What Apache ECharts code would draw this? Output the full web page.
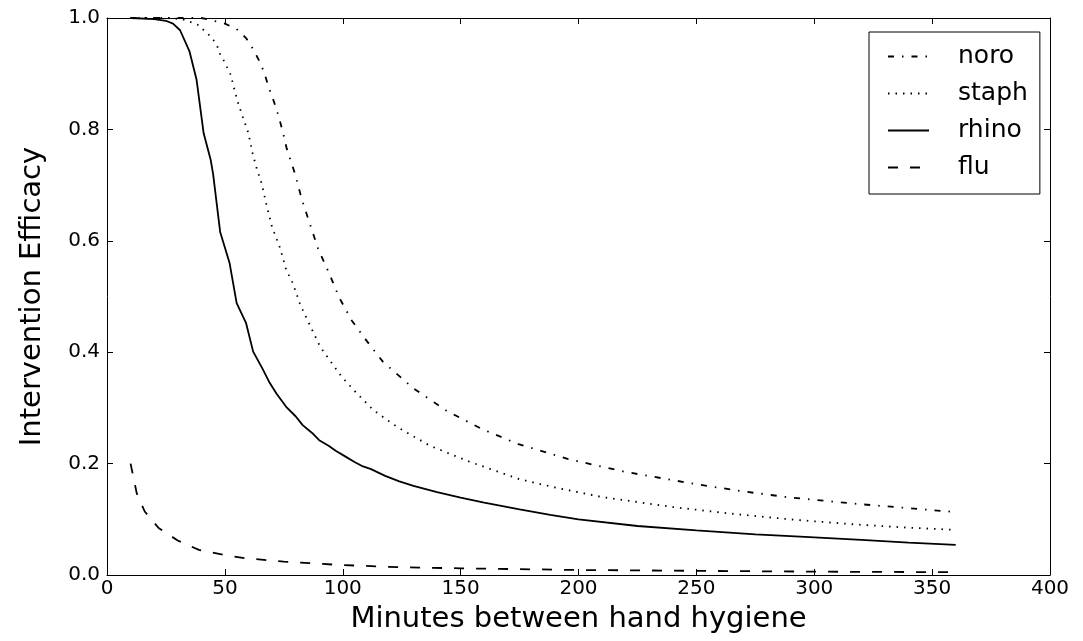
<!DOCTYPE html>
<html>
<head>
<meta charset="utf-8">
<script src="https://cdn.jsdelivr.net/npm/echarts@6/dist/echarts.min.js"></script>
<style>
  html, body { margin: 0; padding: 0; background: #fff; }
  #chart { width: 1083px; height: 641px; }
</style>
</head>
<body>
<div id="chart"></div>
<script>
// values (minutes -> efficacy)
const noroX = [10, 40, 44.4, 50, 55, 59, 62, 64.6, 66.7, 68.4, 70.3, 72, 73.6, 75, 76.2, 79.7, 82.6, 86, 89.6, 94.2, 98.5, 103.8, 110.4, 117, 130, 144, 159, 174.5, 195.7, 220, 250, 270, 290, 320, 340, 360];
const noroY = [1, 1, 0.996, 0.99, 0.98, 0.964, 0.944, 0.923, 0.902, 0.878, 0.856, 0.835, 0.811, 0.788, 0.766, 0.721, 0.675, 0.631, 0.585, 0.542, 0.498, 0.457, 0.419, 0.383, 0.335, 0.295, 0.262, 0.235, 0.208, 0.185, 0.163, 0.15, 0.139, 0.127, 0.12, 0.113];

const staphX = [10, 25, 32, 36, 39, 41, 43.4, 45.4, 47, 48, 50, 51, 52.5, 54, 55.7, 57.8, 60, 61.8, 63.5, 65.6, 67.7, 70, 73.4, 76, 78.8, 82, 86, 90.4, 94.6, 99.5, 106, 113, 123, 137, 154, 175, 188, 210, 240, 265, 292, 320, 340, 360];
const staphY = [1, 1, 0.998, 0.992, 0.987, 0.978, 0.969, 0.959, 0.947, 0.935, 0.92, 0.911, 0.898, 0.872, 0.846, 0.82, 0.793, 0.756, 0.73, 0.703, 0.664, 0.625, 0.587, 0.548, 0.524, 0.485, 0.449, 0.41, 0.385, 0.356, 0.326, 0.296, 0.266, 0.232, 0.203, 0.172, 0.159, 0.14, 0.122, 0.11, 0.099, 0.09, 0.085, 0.081];

const rhinoX = [10, 20, 25, 28, 31, 35, 38, 41, 44, 45, 48, 52, 55, 59, 62, 66, 69, 72, 76, 80, 83, 87, 90, 94, 97, 101, 105, 108, 112, 118, 124, 130, 140, 150, 160, 175, 188, 200, 225, 250, 275, 294, 320, 340, 360];
const rhinoY = [1, 0.998, 0.995, 0.99, 0.978, 0.94, 0.889, 0.793, 0.745, 0.72, 0.616, 0.56, 0.488, 0.452, 0.401, 0.37, 0.345, 0.325, 0.302, 0.285, 0.269, 0.255, 0.242, 0.232, 0.223, 0.213, 0.203, 0.196, 0.19, 0.178, 0.168, 0.16, 0.149, 0.139, 0.13, 0.118, 0.108, 0.1, 0.088, 0.08, 0.073, 0.069, 0.063, 0.058, 0.054];

const fluX = [10, 12.6, 16, 22, 30, 39, 51, 59, 75, 99, 124, 150, 200, 250, 300, 360];
const fluY = [0.2, 0.147, 0.114, 0.084, 0.062, 0.045, 0.035, 0.03, 0.024, 0.018, 0.014, 0.012, 0.009, 0.0075, 0.006, 0.005];

const legendNames = ['noro', 'staph', 'rhino', 'flu'];

const FONT = 'DejaVu Sans';

function pairs(xs, ys) {
  return xs.map((x, i) => [x, ys[i]]);
}

function lineSeries(name, data, dash) {
  return {
    name: name,
    type: 'line',
    data: data,
    symbol: 'none',
    smooth: false,
    animation: false,
    itemStyle: { color: '#000' },
    lineStyle: { color: '#000', width: 1.8, type: dash }
  };
}

const chart = echarts.init(document.getElementById('chart'));

const axisCommon = {
  axisLine: { show: true, onZero: false, lineStyle: { color: '#000', width: 1 } },
  axisTick: { show: true, inside: true, length: 6, lineStyle: { color: '#000' } },
  splitLine: { show: false }
};

const option = {
  backgroundColor: '#fff',
  animation: false,
  grid: { left: 107, right: 33, top: 18, bottom: 66 },
  legend: {
    data: legendNames,
    orient: 'vertical',
    left: 869,
    top: 32,
    itemWidth: 41,
    itemHeight: 14,
    itemGap: 12,
    padding: [12, 12, 14, 18],
    borderColor: '#000',
    borderWidth: 1,
    backgroundColor: '#fff',
    itemStyle: { opacity: 0 },
    textStyle: { fontFamily: FONT, fontSize: 25, color: '#000', padding: [0, 0, 0, 24] }
  },
  xAxis: [
    Object.assign({
      type: 'value', min: 0, max: 400, interval: 50, position: 'bottom',
      name: 'Minutes between hand hygiene', nameLocation: 'middle', nameGap: 30,
      nameTextStyle: { fontFamily: FONT, fontSize: 29, color: '#000' },
      axisLabel: { fontFamily: FONT, fontSize: 20, color: '#000', margin: 4 }
    }, axisCommon),
    Object.assign({
      type: 'value', min: 0, max: 400, interval: 50, position: 'top',
      axisLabel: { show: false }
    }, axisCommon)
  ],
  yAxis: [
    Object.assign({
      type: 'value', min: 0, max: 1, interval: 0.2, position: 'left',
      name: 'Intervention Efficacy', nameLocation: 'middle', nameGap: 60,
      nameTextStyle: { fontFamily: FONT, fontSize: 29, color: '#000' },
      axisLabel: { fontFamily: FONT, fontSize: 20, color: '#000', margin: 7,
        formatter: (v) => v.toFixed(1) }
    }, axisCommon),
    Object.assign({
      type: 'value', min: 0, max: 1, interval: 0.2, position: 'right',
      axisLabel: { show: false }
    }, axisCommon)
  ],
  series: [
    lineSeries('noro', pairs(noroX, noroY), [6, 8, 1.5, 8]),
    lineSeries('staph', pairs(staphX, staphY), [1.5, 6]),
    lineSeries('rhino', pairs(rhinoX, rhinoY), 'solid'),
    lineSeries('flu', pairs(fluX, fluY), [10, 12])
  ]
};

chart.setOption(option);
</script>
</body>
</html>
